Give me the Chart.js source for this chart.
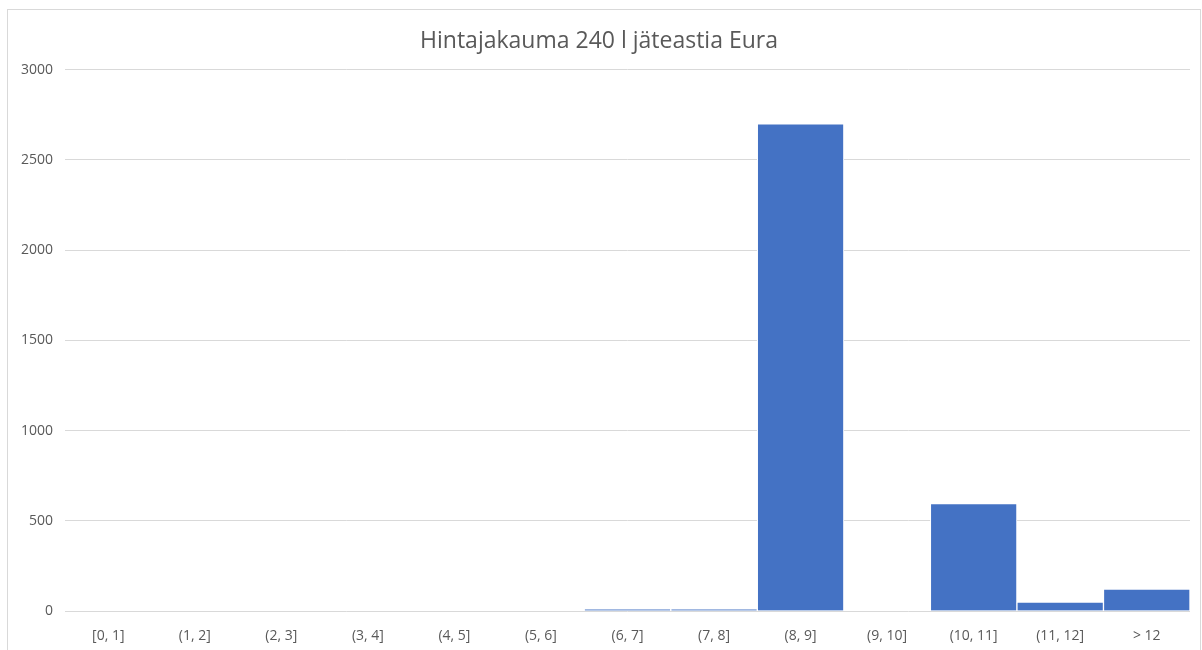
<!DOCTYPE html>
<html lang="fi">
<head>
    <meta charset="UTF-8">
    <title>Hintajakauma 240 l jäteastia Eura</title>
    <script src="https://cdn.jsdelivr.net/npm/chart.js"></script>
    <style>
        body {
            margin: 0;
            padding: 0;
            background: white;
            overflow: hidden;
        }
        #frame {
            position: absolute;
            left: 7px;
            top: 9px;
            width: 1192px;
            height: 680px;
            border: 1px solid #d9d9d9;
        }
        canvas {
            display: block;
        }
    </style>
</head>
<body>
    <div id="frame">
        <canvas id="chart" width="1192" height="680"></canvas>
    </div>

    <script>
        const titleText = 'Hintajakauma 240 l jäteastia Eura';
        const categories = ['[0, 1]', '(1, 2]', '(2, 3]', '(3, 4]', '(4, 5]', '(5, 6]', '(6, 7]', '(7, 8]', '(8, 9]', '(9, 10]', '(10, 11]', '(11, 12]', '> 12'];
        const counts = [0, 0, 0, 0, 0, 0, 9, 9, 2700, 0, 595, 50, 122];
        const yTicks = [0, 500, 1000, 1500, 2000, 2500, 3000];

        const textColor = '#595959';
        const gridColor = '#d9d9d9';
        const fontFamily = '"Open Sans", "Liberation Sans", sans-serif';

        const ctx = document.getElementById('chart').getContext('2d');
        new Chart(ctx, {
            type: 'bar',
            data: {
                labels: categories,
                datasets: [{
                    data: counts,
                    backgroundColor: '#4472c4',
                    borderColor: '#ffffff',
                    borderWidth: 1,
                    barPercentage: 1,
                    categoryPercentage: 1
                }]
            },
            options: {
                responsive: false,
                animation: false,
                layout: {
                    padding: { left: 0, right: 10, top: 0, bottom: 0 }
                },
                plugins: {
                    legend: { display: false },
                    tooltip: { enabled: false },
                    title: {
                        display: true,
                        text: titleText,
                        color: textColor,
                        font: { family: fontFamily, size: 23, weight: 'normal' },
                        padding: { top: 18, bottom: 14 }
                    }
                },
                scales: {
                    x: {
                        grid: { display: false },
                        border: { display: false },
                        ticks: {
                            color: textColor,
                            font: { family: fontFamily, size: 14 },
                            padding: 9,
                            maxRotation: 0
                        },
                        afterFit: function (scale) {
                            scale.height = 79;
                        }
                    },
                    y: {
                        min: 0,
                        max: 3000,
                        afterBuildTicks: function (scale) {
                            scale.ticks = yTicks.map(v => ({ value: v }));
                        },
                        grid: { color: gridColor, lineWidth: 1, drawTicks: false },
                        border: { display: false },
                        ticks: {
                            color: textColor,
                            font: { family: fontFamily, size: 14 },
                            padding: 12,
                            callback: function (value) {
                                return String(value);
                            }
                        },
                        afterFit: function (scale) {
                            scale.width = 57;
                        }
                    }
                }
            }
        });
    </script>
</body>
</html>
